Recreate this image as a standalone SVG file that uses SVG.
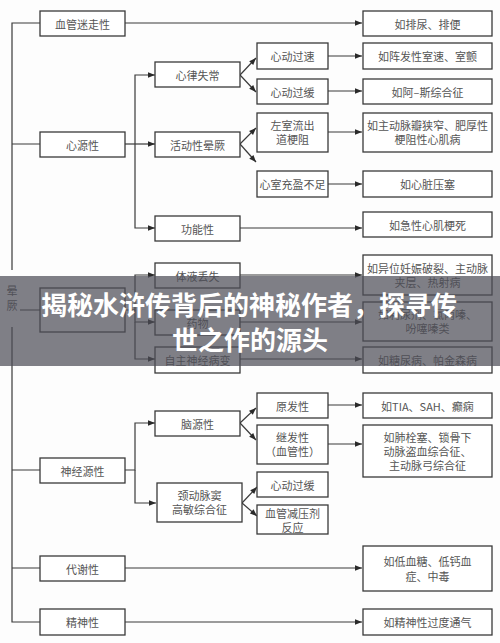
<svg xmlns="http://www.w3.org/2000/svg" width="500" height="643" viewBox="0 0 500 643">
<style>
.b{fill:#fff;stroke:#3a3a3a;stroke-width:1.3}
.t{font-family:"Noto Sans CJK SC","Liberation Sans",sans-serif;font-size:11px;fill:#555;text-anchor:middle;dominant-baseline:central}
.c{fill:none;stroke:#3a3a3a;stroke-width:1.2}
.h{font-family:"Noto Sans CJK SC","Liberation Sans",sans-serif;font-size:26px;font-weight:bold;fill:#fff;text-anchor:middle}
</style>
<defs>
<marker id="a" viewBox="0 0 10 10" refX="10" refY="5" markerWidth="9" markerHeight="7" markerUnits="userSpaceOnUse" orient="auto">
<path d="M0,1 L10,5 L0,9 Z" fill="#2a2a2a"/>
</marker>
</defs>
<rect width="500" height="643" fill="#fdfdfd"/>
<g id="connectors">
<path class="c" d="M40,23 H12 V270 M12,327 V622 H40 M12,144 H40 M12,470 H40 M12,568 H40 M20,310 H40"/>
<path class="c" d="M125,23 H362" marker-end="url(#a)"/>
<path class="c" d="M125,144 H155" marker-end="url(#a)"/>
<path class="c" d="M135,144 V75 H155" marker-end="url(#a)"/>
<path class="c" d="M135,144 V228 H155" marker-end="url(#a)"/>
<path class="c" d="M240,75 L256,58" marker-end="url(#a)"/>
<path class="c" d="M240,75 L256,92" marker-end="url(#a)"/>
<path class="c" d="M240,144 L256,128" marker-end="url(#a)"/>
<path class="c" d="M240,144 L256,162" marker-end="url(#a)"/>
<path class="c" d="M328,56 H362" marker-end="url(#a)"/>
<path class="c" d="M328,91 H362" marker-end="url(#a)"/>
<path class="c" d="M328,132 H362" marker-end="url(#a)"/>
<path class="c" d="M328,184 H362" marker-end="url(#a)"/>
<path class="c" d="M240,228 H362" marker-end="url(#a)"/>
<path class="c" d="M125,310 H135 V275 H155" marker-end="url(#a)"/>
<path class="c" d="M135,310 V322 H155" marker-end="url(#a)"/>
<path class="c" d="M135,322 V359 H155" marker-end="url(#a)"/>
<path class="c" d="M240,275 H362" marker-end="url(#a)"/>
<path class="c" d="M240,322 H362" marker-end="url(#a)"/>
<path class="c" d="M240,359 H362" marker-end="url(#a)"/>
<path class="c" d="M125,470 H135 V423 H155" marker-end="url(#a)"/>
<path class="c" d="M135,470 V503 H156" marker-end="url(#a)"/>
<path class="c" d="M240,423 L256,408" marker-end="url(#a)"/>
<path class="c" d="M240,423 L256,440" marker-end="url(#a)"/>
<path class="c" d="M242,503 L257,487" marker-end="url(#a)"/>
<path class="c" d="M242,503 L257,516" marker-end="url(#a)"/>
<path class="c" d="M328,405 H362" marker-end="url(#a)"/>
<path class="c" d="M328,444 H362" marker-end="url(#a)"/>
<path class="c" d="M125,568 H362" marker-end="url(#a)"/>
<path class="c" d="M125,622 H362" marker-end="url(#a)"/>
</g>
<g id="n-yunjue"><text class="t" x="12" y="290">晕</text><text class="t" x="12" y="305">厥</text></g>
<g id="n1"><rect class="b" x="40" y="11" width="85" height="25"/><text class="t" x="82.5" y="23.5">血管迷走性</text></g>
<g id="n1r"><rect class="b" x="363" y="11" width="129" height="25"/><text class="t" x="427.5" y="23.5">如排尿、排便</text></g>
<g id="n2"><rect class="b" x="40" y="132" width="85" height="25"/><text class="t" x="82.5" y="144.5">心源性</text></g>
<g id="n2a"><rect class="b" x="155" y="62" width="85" height="25"/><text class="t" x="197.5" y="74.5">心律失常</text></g>
<g id="n2b"><rect class="b" x="155" y="132" width="85" height="25"/><text class="t" x="197.5" y="144.5">活动性晕厥</text></g>
<g id="n2c"><rect class="b" x="155" y="216" width="85" height="25"/><text class="t" x="197.5" y="228.5">功能性</text></g>
<g id="n2a1"><rect class="b" x="257" y="43" width="71" height="26"/><text class="t" x="292.5" y="56">心动过速</text></g>
<g id="n2a2"><rect class="b" x="257" y="79" width="71" height="25"/><text class="t" x="292.5" y="91.5">心动过缓</text></g>
<g id="n2b1"><rect class="b" x="257" y="113" width="71" height="39"/><text class="t" x="292.5" y="125">左室流出</text><text class="t" x="292.5" y="139">道梗阻</text></g>
<g id="n2b2"><rect class="b" x="257" y="171" width="71" height="26"/><text class="t" x="292.5" y="184">心室充盈不足</text></g>
<g id="n2a1r"><rect class="b" x="363" y="43" width="129" height="26"/><text class="t" x="427.5" y="56">如阵发性室速、室颤</text></g>
<g id="n2a2r"><rect class="b" x="363" y="79" width="129" height="25"/><text class="t" x="427.5" y="91.5">如阿–斯综合征</text></g>
<g id="n2b1r"><rect class="b" x="363" y="113" width="129" height="39"/><text class="t" x="427.5" y="125">如主动脉瓣狭窄、肥厚性</text><text class="t" x="427.5" y="139">梗阻性心肌病</text></g>
<g id="n2b2r"><rect class="b" x="363" y="171" width="129" height="26"/><text class="t" x="427.5" y="184">如心脏压塞</text></g>
<g id="n2cr"><rect class="b" x="363" y="212" width="129" height="25"/><text class="t" x="427.5" y="225">如急性心肌梗死</text></g>
<g id="n3"><rect class="b" x="40" y="288" width="85" height="44"/></g>
<g id="n3a"><rect class="b" x="155" y="263" width="85" height="25"/><text class="t" x="197.5" y="275.5">体液丢失</text></g>
<g id="n3b"><rect class="b" x="155" y="310" width="85" height="25"/><text class="t" x="197.5" y="322.5">药物</text></g>
<g id="n3c"><rect class="b" x="155" y="347" width="85" height="26"/><text class="t" x="197.5" y="360">自主神经病变</text></g>
<g id="n3ar"><rect class="b" x="363" y="255" width="129" height="40"/><text class="t" x="427.5" y="268">如异位妊娠破裂、主动脉</text><text class="t" x="427.5" y="282">夹层、热射病</text></g>
<g id="n3br"><rect class="b" x="363" y="302" width="129" height="39"/><text class="t" x="427.5" y="314">如利尿剂、氯丙嗪、</text><text class="t" x="427.5" y="328">吩噻嗪类</text></g>
<g id="n3cr"><rect class="b" x="363" y="347" width="129" height="26"/><text class="t" x="427.5" y="360">如糖尿病、帕金森病</text></g>
<g id="n4"><rect class="b" x="40" y="458" width="85" height="25"/><text class="t" x="82.5" y="470.5">神经源性</text></g>
<g id="n4a"><rect class="b" x="155" y="411" width="85" height="25"/><text class="t" x="197.5" y="423.5">脑源性</text></g>
<g id="n4b"><rect class="b" x="157" y="483" width="85" height="39"/><text class="t" x="199.5" y="495">颈动脉窦</text><text class="t" x="199.5" y="509">高敏综合征</text></g>
<g id="n4a1"><rect class="b" x="257" y="393" width="71" height="25"/><text class="t" x="292.5" y="405.5">原发性</text></g>
<g id="n4a2"><rect class="b" x="257" y="425" width="71" height="39"/><text class="t" x="292.5" y="437">继发性</text><text class="t" x="292.5" y="451">（血管性）</text></g>
<g id="n4b1"><rect class="b" x="257" y="472" width="71" height="25"/><text class="t" x="292.5" y="484.5">心动过缓</text></g>
<g id="n4b2"><rect class="b" x="257" y="505" width="71" height="29"/><text class="t" x="292.5" y="513">血管减压剂</text><text class="t" x="292.5" y="527">反应</text></g>
<g id="n4a1r"><rect class="b" x="363" y="393" width="129" height="25"/><text class="t" x="427.5" y="405.5">如TIA、SAH、癫痫</text></g>
<g id="n4a2r"><rect class="b" x="363" y="425" width="129" height="52"/><text class="t" x="427.5" y="437">如肺栓塞、锁骨下</text><text class="t" x="427.5" y="451">动脉盗血综合征、</text><text class="t" x="427.5" y="465">主动脉弓综合征</text></g>
<g id="n5"><rect class="b" x="40" y="556" width="85" height="25"/><text class="t" x="82.5" y="568.5">代谢性</text></g>
<g id="n5r"><rect class="b" x="363" y="546" width="129" height="45"/><text class="t" x="427.5" y="561">如低血糖、低钙血</text><text class="t" x="427.5" y="576">症、中毒</text></g>
<g id="n6"><rect class="b" x="40" y="609" width="85" height="26"/><text class="t" x="82.5" y="622">精神性</text></g>
<g id="n6r"><rect class="b" x="363" y="609" width="129" height="26"/><text class="t" x="427.5" y="622">如精神性过度通气</text></g>
<g id="banner">
<rect x="0" y="276" width="500" height="90" fill="#4e4e58" fill-opacity="0.72"/>
<text class="h" x="249" y="315">揭秘水浒传背后的神秘作者，探寻传</text>
<text class="h" x="250" y="350">世之作的源头</text>
</g>
</svg>
